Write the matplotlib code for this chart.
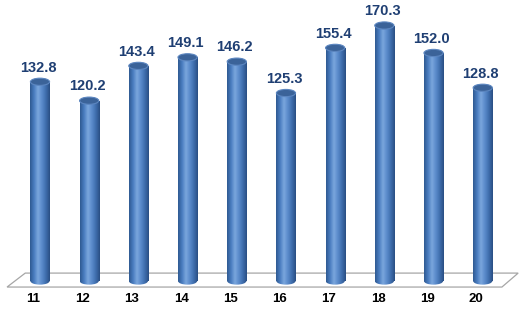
import numpy as np
import matplotlib.pyplot as plt
from matplotlib.patches import Rectangle, Ellipse, Polygon
from matplotlib.colors import LinearSegmentedColormap

# datos
categorias = ['11', '12', '13', '14', '15', '16', '17', '18', '19', '20']
valores = [132.8, 120.2, 143.4, 149.1, 146.2, 125.3, 155.4, 170.3, 152.0, 128.8]

plt.rcParams['font.family'] = ['Liberation Sans', 'DejaVu Sans']

fig = plt.figure(figsize=(5.28, 3.10), dpi=100)
ax = fig.add_axes([0, 0, 1, 1])
ax.set_xlim(-0.813, 9.92)
ax.set_ylim(-19.3, 187.3)
ax.axis('off')

# piso
piso = Polygon([(-0.67, -4.0), (-0.30, 5.3), (9.72, 5.3), (9.39, -4.0)],
               closed=True, facecolor='white', edgecolor='#A6A6A6', lw=0.9, zorder=1)
ax.add_patch(piso)

cmap = LinearSegmentedColormap.from_list(
    'cil', ['#2F5A92', '#4A7DC0', '#7AA6DD', '#5A8ACB', '#3F6EAD', '#2A4F84'])
grad = np.linspace(0, 1, 64).reshape(1, -1)

ancho = 0.39
eh = 4.8
x = np.arange(len(valores))

for xi, v in zip(x, valores):
    x0, x1 = xi - ancho / 2, xi + ancho / 2
    # cuerpo
    rect = Rectangle((x0, 0), ancho, v, transform=ax.transData)
    im = ax.imshow(grad, cmap=cmap, extent=(x0, x1, 0, v), aspect='auto', zorder=2)
    im.set_clip_path(rect)
    # base redondeada
    base = Ellipse((xi, 0), ancho, eh, transform=ax.transData)
    im2 = ax.imshow(grad, cmap=cmap, extent=(x0, x1, -eh, eh), aspect='auto', zorder=2)
    im2.set_clip_path(base)
    # tapa
    tapa = Ellipse((xi, v), ancho, eh, facecolor='#3B6399', edgecolor='#5C86C0',
                   lw=0.8, zorder=3)
    ax.add_patch(tapa)
    ax.text(xi - 0.04, v + 9.5, f'{v:.1f}', ha='center', va='center', fontsize=10.5,
            fontweight='bold', color='#1F3F73', zorder=4)

for xi, c in zip(x, categorias):
    ax.text(xi - 0.13, -12, c, ha='center', va='center', fontsize=9.5,
            fontweight='bold', color='black')

fig.savefig('out.png', dpi=100)
